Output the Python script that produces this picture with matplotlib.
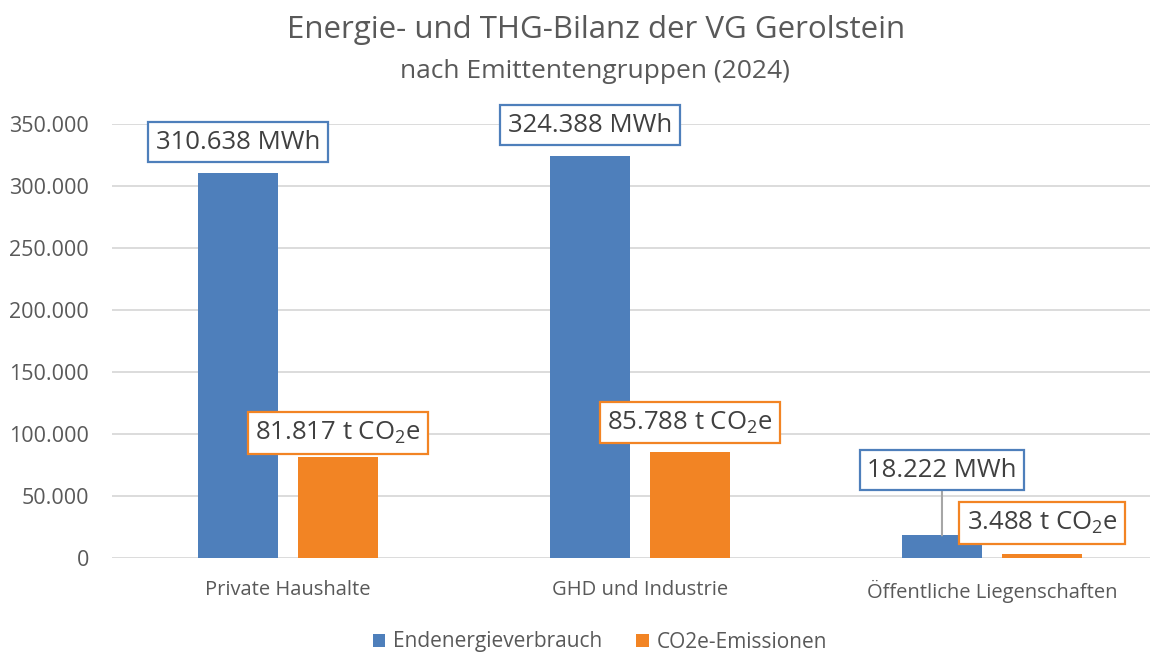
import matplotlib
matplotlib.use("Agg")
import matplotlib.pyplot as plt
import numpy as np

plt.rcParams['font.family'] = ['Open Sans', 'DejaVu Sans']
plt.rcParams['mathtext.fontset'] = 'custom'
plt.rcParams['mathtext.rm'] = 'Open Sans'
plt.rcParams['mathtext.it'] = 'Open Sans:italic'
plt.rcParams['mathtext.bf'] = 'Open Sans:bold'

categories = ["Private Haushalte", "GHD und Industrie", "Öffentliche Liegenschaften"]
energy_mwh = [310638, 324388, 18222]
co2_t = [81817, 85788, 3488]
series_names = ["Endenergieverbrauch", "CO2e-Emissionen"]
yticks = [0, 50000, 100000, 150000, 200000, 250000, 300000, 350000]

BLUE = "#4e7fbb"
ORANGE = "#f28424"
TXT = "#595959"
GRID = "#d9d9d9"

def de(v):
    return f"{v:,.0f}".replace(",", ".")

fig = plt.figure(figsize=(11.56, 6.53), dpi=100)
ax = fig.add_axes([112/1156, (653-558)/653, (1150-112)/1156, (558-124)/653])

x = np.arange(len(categories))
w = 0.227
off = 0.142
b1 = ax.bar(x - off, energy_mwh, w, color=BLUE, label=series_names[0], zorder=3)
b2 = ax.bar(x + off, co2_t, w, color=ORANGE, label=series_names[1], zorder=3)

ax.set_xlim(-0.5, 2.449)
ax.set_ylim(0, 350000)
ax.set_yticks(yticks)
ax.set_yticklabels([de(v) for v in yticks])
ax.set_xticks(x)
ax.set_xticklabels(categories)
ax.tick_params(axis='y', length=0, labelsize=15.5, colors=TXT, pad=16.5)
ax.tick_params(axis='x', length=0, labelsize=14.5, colors=TXT, pad=16)
for s in ax.spines.values():
    s.set_visible(False)
ax.grid(axis='y', color=GRID, linewidth=1.3, zorder=0)
ax.set_axisbelow(True)

label_fs = 18.5
# blue labels
blue_off = [22, 22, 47]  # points above bar top
for i, (xi, v) in enumerate(zip(x - off, energy_mwh)):
    ax.annotate(f"{de(v)} MWh", xy=(xi, v), xytext=(0, blue_off[i]),
                textcoords='offset points', ha='center', va='center',
                fontsize=label_fs, color='#404040', zorder=5,
                bbox=dict(boxstyle='square,pad=0.3', fc='white', ec=BLUE, lw=1.6),
                arrowprops=dict(arrowstyle='-', color='#a6a6a6', lw=1.5,
                                shrinkA=0, shrinkB=0) if i == 2 else None)
orange_off = [17, 21, 22]
for i, (xi, v) in enumerate(zip(x + off, co2_t)):
    ax.annotate(f"{de(v)} t CO$_{{\\mathrm{{2}}}}$e", xy=(xi, v), xytext=(0, orange_off[i]),
                textcoords='offset points', ha='center', va='center',
                fontsize=label_fs, color='#404040', zorder=5,
                bbox=dict(boxstyle='square,pad=0.3', fc='white', ec=ORANGE, lw=1.6))

fig.text(596/1156, 1 - 30/653, "Energie- und THG-Bilanz der VG Gerolstein",
         ha='center', va='center', fontsize=22.5, color=TXT)
fig.text(595/1156, 1 - 72/653, "nach Emittentengruppen (2024)",
         ha='center', va='center', fontsize=19, color=TXT)

fig.legend(handles=[b1, b2], labels=series_names, loc='center',
           bbox_to_anchor=(600/1156, 1 - 642/653), ncol=2, frameon=False,
           fontsize=15, labelcolor=TXT, handlelength=0.6, handleheight=0.6,
           handletextpad=0.4, columnspacing=1.6)

fig.savefig("out.png", dpi=100)
